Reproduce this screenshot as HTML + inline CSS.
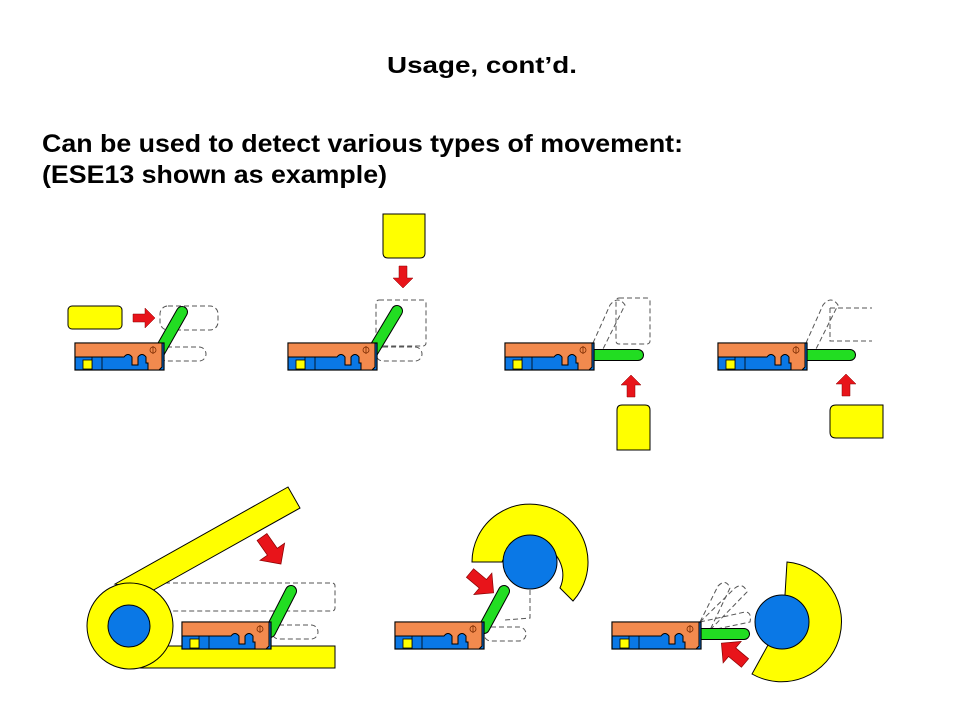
<!DOCTYPE html>
<html><head><style>
html,body{margin:0;padding:0;background:#fff;}
svg{display:block;}
</style></head><body>
<svg width="960" height="720" viewBox="0 0 960 720" xmlns="http://www.w3.org/2000/svg">
<defs>
  <g id="sw">
    <rect x="0" y="0" width="89" height="27" fill="#0a78e6" stroke="#000" stroke-width="1.2"/>
    <path d="M0 0 H87 V24 L84 27 H73 V20 H71 V14 Q67 9 63 14 V22 H57 V14 Q53 9 49 14 L0 14 Z" fill="#f28a4e" stroke="#000" stroke-width="1"/>
    <line x1="17" y1="14" x2="17" y2="27" stroke="#000" stroke-width="0.8"/>
    <line x1="27" y1="14" x2="27" y2="27" stroke="#000" stroke-width="0.8"/>
    <rect x="8" y="17" width="9" height="9" fill="#ffff00" stroke="#000" stroke-width="0.8"/>
    <circle cx="78" cy="7" r="3" fill="none" stroke="#7a2a00" stroke-width="0.8"/>
    <line x1="78" y1="3" x2="78" y2="11" stroke="#7a2a00" stroke-width="0.8"/>
  </g>
  <g id="arrow">
    <path d="M0 -4 H12 V-10 L22 0 L12 10 V4 H0 Z" fill="#e8141a" stroke="#8a0000" stroke-width="0.5"/>
  </g>
</defs>

<text x="482" y="73" text-anchor="middle" font-family="Liberation Sans, Arial, sans-serif" font-weight="bold" font-size="23" textLength="190" lengthAdjust="spacingAndGlyphs">Usage, cont’d.</text>
<text x="42" y="152" font-family="Liberation Sans, Arial, sans-serif" font-weight="bold" font-size="25" textLength="641" lengthAdjust="spacingAndGlyphs">Can be used to detect various types of movement:</text>
<text x="42" y="183" font-family="Liberation Sans, Arial, sans-serif" font-weight="bold" font-size="25" textLength="345" lengthAdjust="spacingAndGlyphs">(ESE13 shown as example)</text>

<g fill="none" stroke="#555" stroke-width="1" stroke-dasharray="5,3">
  <rect x="160" y="306" width="58" height="24" rx="8"/>
  <rect x="160" y="347" width="46" height="14" rx="7"/>
  <rect x="376" y="300" width="50" height="46" rx="3"/>
  <rect x="376" y="347" width="46" height="14" rx="7"/>
  <path d="M593 343 L610 305 Q618 295 625 305 L600 355"/>
  <rect x="616" y="298" width="34" height="46" rx="3"/>
  <path d="M806 343 L823 305 Q831 295 838 305 L813 355"/>
  <path d="M830 308 H872 M830 308 V341 H872"/>
  <rect x="130" y="583" width="205" height="28" rx="3"/>
  <rect x="272" y="625" width="46" height="14" rx="7"/>
  <path d="M530 590 V618 L505 620"/>
  <rect x="484" y="627" width="42" height="14" rx="7"/>
  <path d="M700 622 L718 586 Q726 578 730 588 L710 630"/>
  <path d="M700 622 L735 588 Q743 582 747 592 L710 630"/>
  <path d="M700 622 L745 612 Q752 612 750 622 L712 630"/>
</g>

<rect x="68" y="306" width="54" height="23" rx="4" fill="#ffff00" stroke="#000" stroke-width="1"/>
<use href="#arrow" transform="translate(133,318)"/>
<line x1="157" y1="356" x2="182" y2="312" stroke="#000" stroke-width="12" stroke-linecap="round"/>
<line x1="157" y1="356" x2="182" y2="312" stroke="#22dd22" stroke-width="10" stroke-linecap="round"/>
<use href="#sw" transform="translate(75,343)"/>

<path d="M383 214 H425 V253 Q425 258 420 258 H388 Q383 258 383 253 Z" fill="#ffff00" stroke="#000" stroke-width="1"/>
<use href="#arrow" transform="translate(403,266) rotate(90)"/>
<line x1="370" y1="356" x2="397" y2="311" stroke="#000" stroke-width="12" stroke-linecap="round"/>
<line x1="370" y1="356" x2="397" y2="311" stroke="#22dd22" stroke-width="10" stroke-linecap="round"/>
<use href="#sw" transform="translate(288,343)"/>

<path d="M617 450 V410 Q617 405 622 405 H645 Q650 405 650 410 V450 Z" fill="#ffff00" stroke="#000" stroke-width="1"/>
<use href="#arrow" transform="translate(631,397) rotate(-90)"/>
<line x1="594" y1="355" x2="638" y2="355" stroke="#000" stroke-width="12" stroke-linecap="round"/>
<line x1="594" y1="355" x2="638" y2="355" stroke="#22dd22" stroke-width="10" stroke-linecap="round"/>
<use href="#sw" transform="translate(505,343)"/>

<path d="M883 438 H836 Q830 438 830 432 V411 Q830 405 836 405 H883 Z" fill="#ffff00" stroke="#000" stroke-width="1"/>
<use href="#arrow" transform="translate(846,396) rotate(-90)"/>
<line x1="807" y1="355" x2="850" y2="355" stroke="#000" stroke-width="12" stroke-linecap="round"/>
<line x1="807" y1="355" x2="850" y2="355" stroke="#22dd22" stroke-width="10" stroke-linecap="round"/>
<use href="#sw" transform="translate(718,343)"/>

<polygon points="115,584 288,487 300,508 150,592" fill="#ffff00" stroke="#000" stroke-width="1"/>
<rect x="130" y="646" width="205" height="22" fill="#ffff00" stroke="#000" stroke-width="1"/>
<circle cx="130" cy="626" r="43" fill="#ffff00" stroke="#000" stroke-width="1"/>
<circle cx="129" cy="626" r="21" fill="#0a78e6" stroke="#000" stroke-width="1"/>
<use href="#arrow" transform="translate(262,537) rotate(55) scale(1.5)"/>
<line x1="270" y1="632" x2="291" y2="591" stroke="#000" stroke-width="12" stroke-linecap="round"/>
<line x1="270" y1="632" x2="291" y2="591" stroke="#22dd22" stroke-width="10" stroke-linecap="round"/>
<use href="#sw" transform="translate(182,622)"/>

<path d="M472 562 A58 58 0 1 1 573 601 L560 588 A30 30 0 0 0 502 562 Z" fill="#ffff00" stroke="#000" stroke-width="1"/>
<circle cx="530" cy="562" r="27" fill="#0a78e6" stroke="#000" stroke-width="1"/>
<use href="#arrow" transform="translate(470,573) rotate(40) scale(1.4)"/>
<line x1="484" y1="628" x2="504" y2="591" stroke="#000" stroke-width="12" stroke-linecap="round"/>
<line x1="484" y1="628" x2="504" y2="591" stroke="#22dd22" stroke-width="10" stroke-linecap="round"/>
<use href="#sw" transform="translate(395,622)"/>

<path d="M787 562 A60 60 0 1 1 752 674 L768 645 A27 27 0 0 0 785 595 Z" fill="#ffff00" stroke="#000" stroke-width="1"/>
<circle cx="782" cy="622" r="27" fill="#0a78e6" stroke="#000" stroke-width="1"/>
<use href="#arrow" transform="translate(745,663) rotate(-140) scale(1.4)"/>
<line x1="701" y1="634" x2="744" y2="634" stroke="#000" stroke-width="12" stroke-linecap="round"/>
<line x1="701" y1="634" x2="744" y2="634" stroke="#22dd22" stroke-width="10" stroke-linecap="round"/>
<use href="#sw" transform="translate(612,622)"/>
</svg>
</body></html>
